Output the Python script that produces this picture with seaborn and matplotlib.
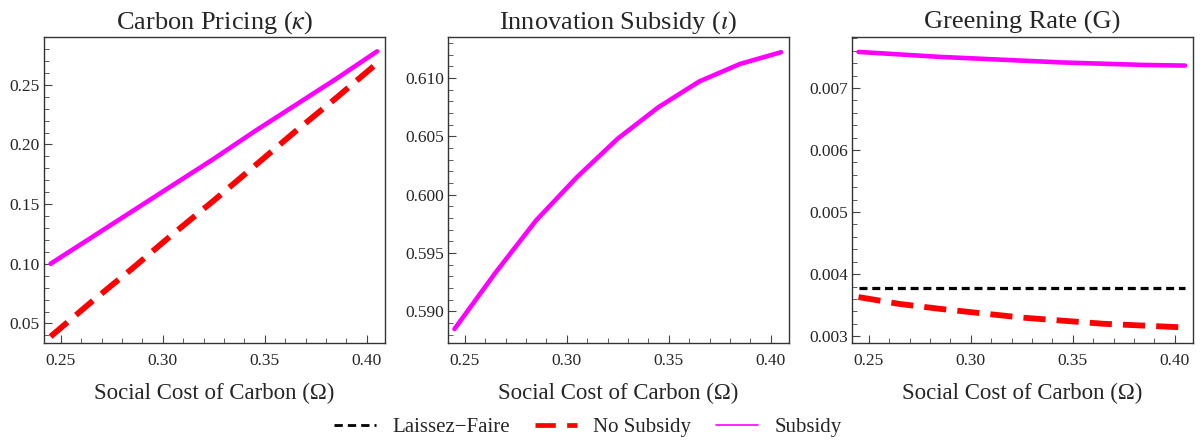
import matplotlib

matplotlib.use("Agg")

import matplotlib.pyplot as plt
import pandas as pd
import seaborn as sns
from matplotlib.lines import Line2D
from matplotlib.ticker import FormatStrFormatter, MultipleLocator

# data
omega = [0.245, 0.265, 0.285, 0.305, 0.325, 0.345, 0.365, 0.385, 0.405]

kappa_no_subsidy = [0.039, 0.068, 0.096, 0.125, 0.153, 0.182, 0.211, 0.239, 0.268]
kappa_subsidy = [0.100, 0.122, 0.144, 0.166, 0.188, 0.211, 0.233, 0.255, 0.278]

iota_subsidy = [0.5885, 0.5933, 0.5978, 0.6015, 0.6048, 0.6075, 0.6097, 0.6112, 0.6122]

g_laissez_faire = [0.00378] * 9
g_no_subsidy = [0.00363, 0.00352, 0.00344, 0.00337, 0.00330, 0.00325, 0.00320, 0.00317, 0.00314]
g_subsidy = [0.00758, 0.00754, 0.00750, 0.00747, 0.00744, 0.00741, 0.00739, 0.00737, 0.00736]

titles = [r"Carbon Pricing ($\kappa$)", r"Innovation Subsidy ($\iota$)", "Greening Rate (G)"]
xlabel = "Social Cost of Carbon (\u03a9)"
series_names = ["Laissez\u2212Faire", "No Subsidy", "Subsidy"]

sns.set_style("ticks")
plt.rcParams["font.family"] = ["Liberation Serif", "DejaVu Serif"]
plt.rcParams["mathtext.fontset"] = "stix"

MAGENTA = "#ff00ff"
RED = "#ff0000"
BLACK = "#000000"

styles = {
    "Laissez\u2212Faire": dict(color=BLACK, lw=2.3, linestyle=(0, (2.5, 1.5))),
    "No Subsidy": dict(color=RED, lw=4.2, linestyle=(0, (3.8, 1.9))),
    "Subsidy": dict(color=MAGENTA, lw=3.3, linestyle="-"),
}

panels = [
    {"No Subsidy": kappa_no_subsidy, "Subsidy": kappa_subsidy},
    {"Subsidy": iota_subsidy},
    {"Laissez\u2212Faire": g_laissez_faire, "No Subsidy": g_no_subsidy, "Subsidy": g_subsidy},
]
ylims = [(0.0336, 0.29), (0.5873, 0.6135), (0.00289, 0.00782)]
ymajor = [0.05, 0.005, 0.001]
yfmt = ["%.2f", "%.3f", "%.3f"]
lefts = [0.0367, 0.3733, 0.71]

fig = plt.figure(figsize=(12, 4.43), dpi=100)

for i, series in enumerate(panels):
    ax = fig.add_axes([lefts[i], 0.2257, 0.284, 0.6907])
    for name, vals in series.items():
        df = pd.DataFrame({"omega": omega, "value": vals})
        sns.lineplot(data=df, x="omega", y="value", ax=ax, legend=False, **styles[name])
    ax.set_xlim(0.2418, 0.4088)
    ax.set_ylim(*ylims[i])
    ax.xaxis.set_major_locator(MultipleLocator(0.05))
    ax.xaxis.set_minor_locator(MultipleLocator(0.01))
    ax.xaxis.set_major_formatter(FormatStrFormatter("%.2f"))
    ax.yaxis.set_major_locator(MultipleLocator(ymajor[i]))
    ax.yaxis.set_minor_locator(MultipleLocator(ymajor[i] / 5))
    ax.yaxis.set_major_formatter(FormatStrFormatter(yfmt[i]))
    ax.tick_params(which="both", direction="in", top=False, right=False,
                   color="#444444", labelsize=12.5)
    ax.tick_params(axis="x", which="both", pad=7)
    ax.tick_params(axis="y", which="both", pad=3)
    ax.tick_params(which="major", length=6, width=0.8)
    ax.tick_params(which="minor", length=3.5, width=0.6)
    for sp in ax.spines.values():
        sp.set_color("#333333")
        sp.set_linewidth(1.0)
    ax.set_title(titles[i], fontsize=19, pad=6)
    ax.set_xlabel(xlabel, fontsize=16.5, labelpad=10)
    ax.set_ylabel("")

handles = [
    Line2D([], [], color=BLACK, lw=2.0, linestyle=(0, (3.0, 1.8))),
    Line2D([], [], color=RED, lw=3.4, linestyle=(0, (4.3, 2.4))),
    Line2D([], [], color=MAGENTA, lw=1.2),
]
fig.legend(handles, series_names, loc="center", bbox_to_anchor=(0.49, 0.036),
           ncol=3, frameon=False, fontsize=15, handlelength=2.0,
           columnspacing=1.2, handletextpad=0.8)

fig.savefig("out.png", dpi=100)
